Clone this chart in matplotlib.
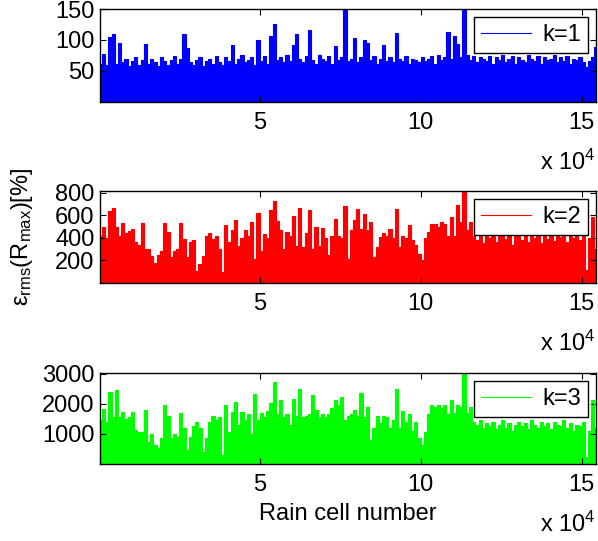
import matplotlib
matplotlib.use("Agg")
import matplotlib.pyplot as plt
import numpy as np

plt.rcParams['font.family'] = ['Liberation Sans', 'DejaVu Sans']
plt.rcParams['mathtext.fontset'] = 'custom'
plt.rcParams['mathtext.rm'] = 'Liberation Sans'
plt.rcParams['mathtext.it'] = 'Liberation Sans:italic'

# error values, one sample every 1000 rain cells
k1 = [62, 78, 60, 105, 110, 62, 95, 64, 70, 58,
      66, 72, 60, 68, 94, 62, 70, 64, 58, 72,
      66, 60, 68, 74, 62, 70, 110, 87, 64, 60,
      68, 72, 58, 66, 70, 62, 74, 64, 60, 72,
      66, 92, 62, 70, 76, 64, 68, 72, 60, 100,
      66, 74, 62, 106, 126, 68, 72, 64, 76, 66,
      92, 110, 70, 64, 74, 116, 68, 62, 76, 70,
      66, 74, 62, 90, 68, 72, 150, 66, 70, 103,
      64, 72, 100, 95, 68, 74, 62, 70, 92, 66,
      72, 64, 111, 70, 66, 74, 62, 70, 68, 64,
      72, 66, 70, 74, 62, 76, 68, 72, 113, 70,
      106, 94, 72, 152, 76, 68, 74, 64, 72, 70,
      66, 74, 62, 72, 68, 76, 64, 70, 74, 62,
      72, 68, 64, 76, 70, 66, 74, 62, 72, 68,
      70, 76, 64, 72, 66, 74, 62, 70, 68, 72,
      64, 56, 66, 72, 88]

k2 = [420, 500, 400, 640, 665, 500, 420, 530, 440, 460,
      475, 360, 340, 530, 300, 300, 240, 175, 250, 280,
      530, 450, 230, 280, 300, 530, 390, 230, 360, 380,
      110, 170, 240, 420, 440, 390, 420, 300, 100, 517,
      360, 473, 562, 330, 400, 470, 414, 538, 210, 620,
      280, 430, 400, 644, 724, 545, 470, 300, 455, 420,
      590, 330, 665, 315, 440, 650, 300, 500, 330, 490,
      400, 250, 414, 567, 420, 400, 680, 210, 470, 555,
      659, 482, 615, 470, 540, 230, 319, 408, 440, 420,
      480, 400, 659, 319, 420, 400, 511, 380, 334, 260,
      200, 400, 450, 526, 520, 500, 540, 520, 420, 585,
      420, 688, 540, 815, 470, 540, 420, 380, 460, 350,
      440, 400, 470, 360, 430, 480, 390, 450, 340, 420,
      470, 380, 440, 360, 460, 400, 480, 350, 430, 390,
      450, 370, 470, 410, 440, 360, 460, 400, 430, 380,
      420, 112, 400, 585, 300]

k3 = [1465, 1820, 1400, 2410, 1550, 2465, 1550, 1740, 1500, 1550,
      1740, 1130, 1050, 1050, 1800, 740, 1000, 630, 520, 880,
      1965, 1600, 850, 1000, 900, 1710, 1200, 470, 900, 1250,
      1410, 1200, 400, 850, 1400, 1600, 1450, 1550, 300, 1965,
      1050, 1740, 2075, 1300, 1740, 1450, 1650, 1000, 2330, 1450,
      1700, 1550, 1750, 2020, 2740, 1650, 2130, 1550, 1650, 1300,
      2150, 1600, 2490, 1580, 1600, 1650, 2300, 1800, 1550, 1650,
      1550, 1650, 1850, 2130, 1950, 2240, 1480, 1600, 1650, 1800,
      1600, 2350, 1550, 1900, 800, 1200, 1600, 1350, 1600, 1550,
      1200, 1450, 2490, 1200, 1750, 1400, 1650, 1100, 1400, 870,
      630, 1050, 1650, 1965, 1900, 1965, 1850, 1965, 1650, 2130,
      1700, 1950, 1900, 3020, 1700, 1900, 1400, 1300, 1450, 1200,
      1350, 1250, 1400, 1150, 1300, 1450, 1200, 1350, 1100, 1300,
      1400, 1250, 1350, 1150, 1450, 1300, 1200, 1400, 1250, 1350,
      1150, 1400, 1300, 1250, 1450, 1200, 1350, 1100, 1300, 1250,
      1400, 240, 1100, 2130, 1200]

cells = np.arange(len(k1)) * 1000 + 500
series = [k1, k2, k3]
labels = ['k=1', 'k=2', 'k=3']
colors = ['#0000ff', '#ff0000', '#00ff00']
ylims = [(0, 150), (0, 815), (0, 3030)]
yticks = [[50, 100, 150], [200, 400, 600, 800], [1000, 2000, 3000]]

fig = plt.figure(figsize=(5.98, 5.41), dpi=100)
W, H = 598.0, 541.0
boxes = [(9, 102), (191, 283), (373, 464)]  # top/bottom in pixels

for i in range(3):
    top, bot = boxes[i]
    ax = fig.add_axes([100 / W, 1 - bot / H, 496 / W, (bot - top) / H])
    ax.fill_between(cells, 0, series[i], color=colors[i], lw=0, step='mid')
    ax.plot(cells, series[i], color=colors[i], lw=0.8, label=labels[i],
            drawstyle='steps-mid')
    ax.set_xlim(400, 154500)
    ax.set_ylim(*ylims[i])
    ax.set_xticks([50000, 100000, 150000])
    ax.set_xticklabels(['5', '10', '15'])
    ax.set_yticks(yticks[i])
    ax.tick_params(direction='in', top=True, right=True, labelsize=17,
                   length=4, width=0.8)
    ax.tick_params(axis='x', pad=7)
    ax.tick_params(axis='y', pad=4)
    for s in ax.spines.values():
        s.set_linewidth(1.0)
    leg = ax.legend(loc='upper right', fontsize=17, fancybox=False,
                    framealpha=1, edgecolor='black', handlelength=2.1,
                    borderaxespad=0.33, borderpad=0.3, handletextpad=0.5)
    leg.get_frame().set_linewidth(1.0)
    ax.annotate(r'x 10$^{4}$', xy=(1, 0), xycoords='axes fraction',
                xytext=(0, -68), textcoords='offset pixels',
                ha='right', va='baseline', fontsize=17)

fig.text(22 / W, 1 - 237 / H, r'ε$_{\mathrm{rms}}$(R$_{\mathrm{max}}$)[%]',
         rotation=90, ha='center', va='center', fontsize=17)
fig.text(348 / W, 1 - 514 / H, 'Rain cell number',
         ha='center', va='center', fontsize=17)

fig.savefig('out.png', dpi=100)
